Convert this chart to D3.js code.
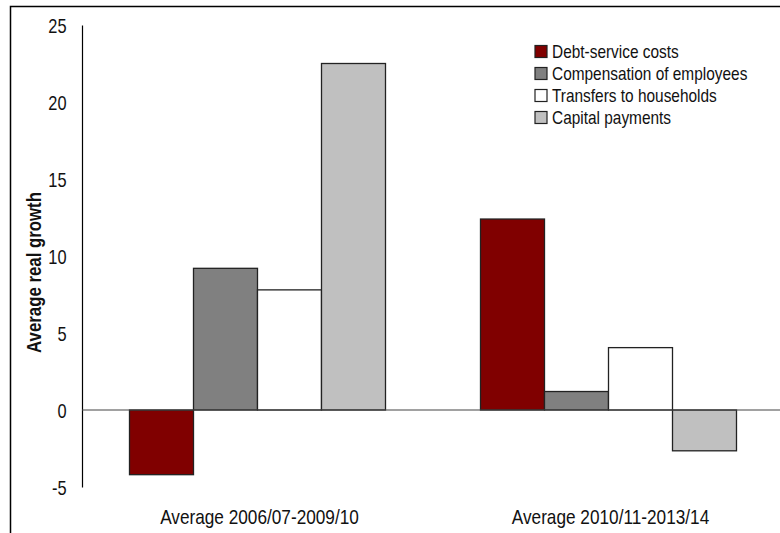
<!DOCTYPE html>
<html>
<head>
<meta charset="utf-8">
<script src="https://cdn.jsdelivr.net/npm/d3@7"></script>
<style>
  body { margin: 0; background: #fff; }
  svg text { font-family: "Liberation Sans", Arial, sans-serif; fill: #111; }
</style>
</head>
<body>
<div id="chart"></div>
<script>
  // data
  var periods = ["Average 2006/07-2009/10", "Average 2010/11-2013/14"];
  var seriesNames = ["Debt-service costs", "Compensation of employees", "Transfers to households", "Capital payments"];
  var seriesColors = ["#800000", "#808080", "#ffffff", "#c0c0c0"];
  var debtService = [-4.2, 12.4];
  var compensation = [9.2, 1.2];
  var transfers = [7.8, 4.05];
  var capital = [22.5, -2.65];
  var yTicks = [-5, 0, 5, 10, 15, 20, 25];

  var seriesValues = [debtService, compensation, transfers, capital];

  var width = 780, height = 533;
  var plotLeft = 82, plotRight = 784, plotTop = 25, plotBottom = 487;
  var groupWidth = 256;
  var narrow = 0.82; // squeeze Liberation Sans to look like Arial Narrow

  function squeeze(x, y) {
    return "translate(" + x + "," + y + ") scale(" + narrow + ",1)";
  }

  var svg = d3.select("#chart").append("svg")
      .attr("width", width)
      .attr("height", height);

  // outer frame (only top/left edges fall inside the picture)
  svg.append("rect")
      .attr("x", 10.5).attr("y", 6.5)
      .attr("width", 800).attr("height", 560)
      .attr("fill", "none")
      .attr("stroke", "#000")
      .attr("stroke-width", 1.5);

  var y = d3.scaleLinear().domain([-5, 25]).range([plotBottom, plotTop]);

  var x0 = d3.scaleBand().domain(periods).range([plotLeft, plotRight]);
  var x1 = d3.scaleBand().domain(seriesNames).range([0, groupWidth]);

  // y axis
  var yAxis = svg.append("g")
      .attr("transform", "translate(" + plotLeft + ",0)")
      .call(d3.axisLeft(y).tickValues(yTicks).tickSize(0).tickSizeOuter(0)
        .tickFormat(function(d) { return String(d); }));
  yAxis.select(".domain").attr("stroke", "#000").attr("stroke-width", 1.2);
  yAxis.selectAll(".tick text")
      .attr("x", 0)
      .attr("dy", "0.36em")
      .attr("transform", squeeze(-15.5, 0))
      .attr("font-size", 20)
      .attr("fill", "#111")
      .style("font-family", "'Liberation Sans', Arial, sans-serif");

  // bars
  var groups = svg.selectAll("g.period")
      .data(periods)
      .enter().append("g")
      .attr("class", "period")
      .attr("transform", function(d) { return "translate(" + (x0(d) + (x0.bandwidth() - groupWidth) / 2) + ",0)"; });

  groups.selectAll("rect")
      .data(function(d, i) {
        return seriesNames.map(function(s, j) { return { name: s, value: seriesValues[j][i], color: seriesColors[j] }; });
      })
      .enter().append("rect")
      .attr("x", function(d) { return x1(d.name); })
      .attr("y", function(d) { return y(Math.max(0, d.value)); })
      .attr("width", x1.bandwidth())
      .attr("height", function(d) { return Math.abs(y(d.value) - y(0)); })
      .attr("fill", function(d) { return d.color; })
      .attr("stroke", "#222")
      .attr("stroke-width", 1.3);

  // zero line
  svg.append("line")
      .attr("x1", plotLeft).attr("x2", plotRight)
      .attr("y1", y(0)).attr("y2", y(0))
      .attr("stroke", "#444")
      .attr("stroke-width", 1.2);

  // category labels
  svg.selectAll("text.cat")
      .data(periods)
      .enter().append("text")
      .attr("class", "cat")
      .attr("transform", function(d) { return squeeze(x0(d) + x0.bandwidth() / 2 + 2, 524); })
      .attr("text-anchor", "middle")
      .attr("font-size", 21)
      .text(function(d) { return d; });

  // y label
  svg.append("text")
      .attr("transform", "translate(41,272.5) rotate(-90) scale(" + narrow + ",1)")
      .attr("text-anchor", "middle")
      .attr("font-size", 20.5)
      .attr("font-weight", "bold")
      .text("Average real growth");

  // legend
  var legend = svg.selectAll("g.legend")
      .data(seriesNames)
      .enter().append("g")
      .attr("class", "legend")
      .attr("transform", function(d, i) { return "translate(535," + (45.5 + i * 22) + ")"; });

  legend.append("rect")
      .attr("width", 12).attr("height", 12)
      .attr("fill", function(d, i) { return seriesColors[i]; })
      .attr("stroke", "#222")
      .attr("stroke-width", 1.2);

  legend.append("text")
      .attr("transform", squeeze(17, 12))
      .attr("font-size", 18.8)
      .text(function(d) { return d; });
</script>
</body>
</html>
